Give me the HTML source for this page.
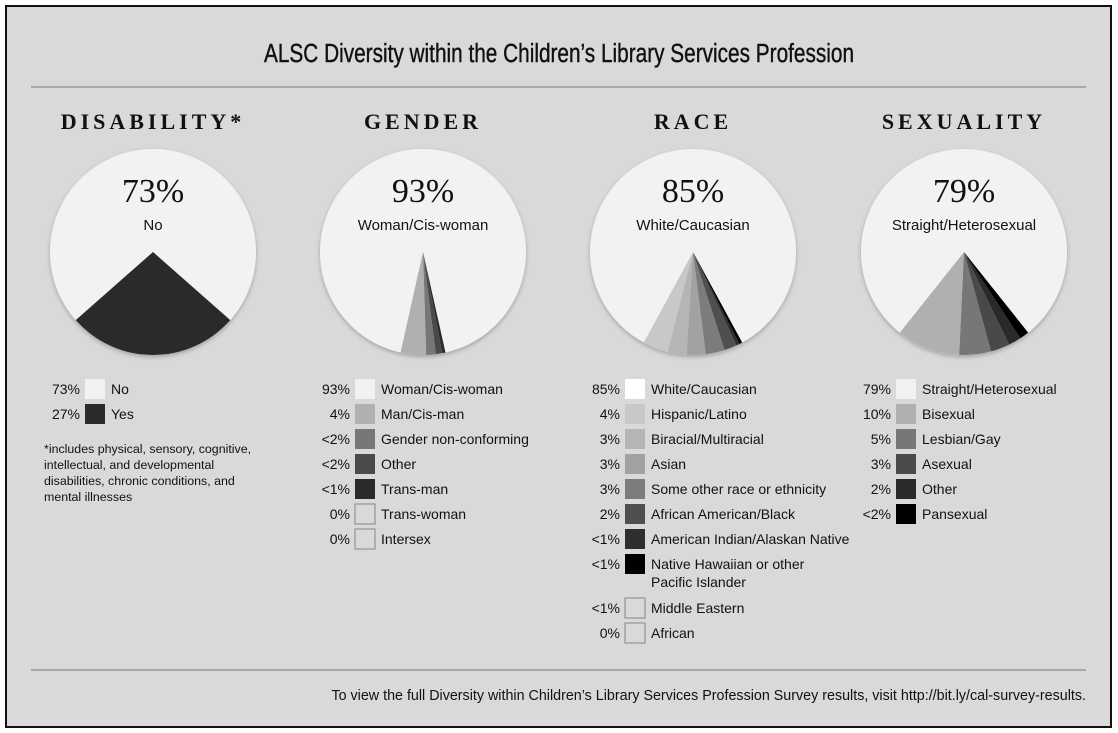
<!DOCTYPE html>
<html><head><meta charset="utf-8"><style>
body{margin:0;width:1118px;height:733px;background:#fff;overflow:hidden;font-family:"Liberation Sans",sans-serif}
#frame{position:absolute;left:5px;top:5px;width:1103px;height:719px;background:#d9d9d9;border:2px solid #111}
svg{position:absolute;left:0;top:0}
</style></head><body>
<div id="frame"></div>
<svg id="chart" width="1118" height="733">
<defs><filter id="sh" x="-10%" y="-10%" width="120%" height="120%"><feDropShadow dx="0" dy="2" stdDeviation="2" flood-color="#000" flood-opacity="0.25"/></filter></defs>
<text x="559" y="62" text-anchor="middle" font-family="Liberation Sans, sans-serif" font-size="26" stroke="#111" stroke-width="0.4" transform="translate(559 0) scale(0.8 1) translate(-559 0)" fill="#111">ALSC Diversity within the Children’s Library Services Profession</text>
<line x1="31" y1="87" x2="1086" y2="87" stroke="#777" stroke-width="1"/>
<line x1="31" y1="670" x2="1086" y2="670" stroke="#777" stroke-width="1"/>
<text x="1086" y="700" text-anchor="end" font-size="14.3" fill="#111">To view the full Diversity within Children’s Library Services Profession Survey results, visit http://bit.ly/cal-survey-results.</text>
<text x="44" y="453" font-size="12.4" fill="#111"><tspan x="44">*includes physical, sensory, cognitive,</tspan><tspan x="44" dy="16">intellectual, and developmental</tspan><tspan x="44" dy="16">disabilities, chronic conditions, and</tspan><tspan x="44" dy="16">mental illnesses</tspan></text>
</svg>
<script>
const panelTitles=["DISABILITY*","GENDER","RACE","SEXUALITY"];
const bigPct=["73%","93%","85%","79%"];
const bigLabel=["No","Woman/Cis-woman","White/Caucasian","Straight/Heterosexual"];
const disabilityValues=[73,27];
const genderValues=[93,4,1.5,1,0.5];
const raceValues=[85,4,3,3,3,2,0.5,0.5];
const sexualityValues=[79,10,5,3,2,1.5];
const disabilityLabels=[["73%","No"],["27%","Yes"]];
const genderLabels=[["93%","Woman/Cis-woman"],["4%","Man/Cis-man"],["<2%","Gender non-conforming"],["<2%","Other"],["<1%","Trans-man"],["0%","Trans-woman"],["0%","Intersex"]];
const raceLabels=[["85%","White/Caucasian"],["4%","Hispanic/Latino"],["3%","Biracial/Multiracial"],["3%","Asian"],["3%","Some other race or ethnicity"],["2%","African American/Black"],["<1%","American Indian/Alaskan Native"],["<1%","Native Hawaiian or other|Pacific Islander"],["<1%","Middle Eastern"],["0%","African"]];
const sexualityLabels=[["79%","Straight/Heterosexual"],["10%","Bisexual"],["5%","Lesbian/Gay"],["3%","Asexual"],["2%","Other"],["<2%","Pansexual"]];
const disabilityColors=["#f2f2f2","#2b2b2b"];
const genderColors=["#f2f2f2","#b0b0b0","#777","#4a4a4a","#2a2a2a","none","none"];
const raceColors=["#fff","#c8c8c8","#b5b5b5","#a2a2a2","#7c7c7c","#4f4f4f","#2e2e2e","#000","none","none"];
const sexualityColors=["#f2f2f2","#b0b0b0","#777","#4a4a4a","#2a2a2a","#000"];
const pieColorsRace=["#f2f2f2","#c8c8c8","#b5b5b5","#a2a2a2","#7c7c7c","#4f4f4f","#2e2e2e","#000"];

const NS="http://www.w3.org/2000/svg";
const svg=document.getElementById('chart');
function mk(t,a,p){const e=document.createElementNS(NS,t);for(const k in a)e.setAttribute(k,a[k]);(p||svg).appendChild(e);return e;}
const centers=[153,423,693,964];
const cy=252,R=103;
const panels=[
 {vals:disabilityValues,cols:disabilityColors,labels:disabilityLabels,lcols:disabilityColors,name:"disability"},
 {vals:genderValues,cols:genderColors,labels:genderLabels,lcols:genderColors,name:"gender"},
 {vals:raceValues,cols:pieColorsRace,labels:raceLabels,lcols:raceColors,name:"race"},
 {vals:sexualityValues,cols:sexualityColors,labels:sexualityLabels,lcols:sexualityColors,name:"sexuality"}];
function pt(cx,a){return [cx+R*Math.sin(a),cy-R*Math.cos(a)];}
panels.forEach((p,i)=>{
 const cx=centers[i];
 const h=mk('text',{x:cx,y:129,'text-anchor':'middle','font-family':'Liberation Serif, serif','font-weight':'bold','font-size':22,'letter-spacing':4,fill:'#111'});
 
 
 h.textContent=panelTitles[i];
 const g=mk('g',{filter:'url(#sh)'});
 
 
 const tot=p.vals.reduce((a,b)=>a+b,0);
 const minor=tot-p.vals[0];
 const c=mk('circle',{cx:cx,cy:cy,r:R,fill:p.cols[0]},g);
 
 
 let a=Math.PI+Math.PI*minor/tot;
 for(let k=1;k<p.vals.length;k++){
  const sw=2*Math.PI*p.vals[k]/tot;
  const a2=a-sw;
  const [x1,y1]=pt(cx,a),[x2,y2]=pt(cx,a2);
  const s=mk('path',{d:`M${cx},${cy}L${x1},${y1}A${R},${R} 0 ${sw>Math.PI?1:0} 0 ${x2},${y2}Z`,fill:p.cols[k]},g);
  
  
  a=a2;
 }
 const bp=mk('text',{x:cx,y:202,'text-anchor':'middle','font-family':'Liberation Serif, serif','font-size':34,fill:'#111'});
 
 
 bp.textContent=bigPct[i];
 const bl=mk('text',{x:cx,y:230,'text-anchor':'middle','font-size':15,fill:'#111'});
 
 
 bl.textContent=bigLabel[i];
 const px=cx-73;
 let y=389;
 p.labels.forEach((L,k)=>{
  const t=mk('text',{x:px,y:y+5,'text-anchor':'end','font-size':14,fill:'#111'});
  
  
  t.textContent=L[0];
  const col=p.lcols[k];
  const r=mk('rect',{x:px+5,y:y-10,width:20,height:20,fill:col==='none'?'#d9d9d9':col,stroke:col==='none'?'#888':'none'});
  
  
  const parts=L[1].split('|');
  const lt=mk('text',{x:px+31,y:y+5,'font-size':14,fill:'#111'});
  
  
  parts.forEach((s,j)=>{const ts=mk('tspan',{x:px+31,dy:j?18:0},lt);ts.textContent=s;});
  y+=25+(parts.length-1)*19;
 });
});
</script>
</body></html>
